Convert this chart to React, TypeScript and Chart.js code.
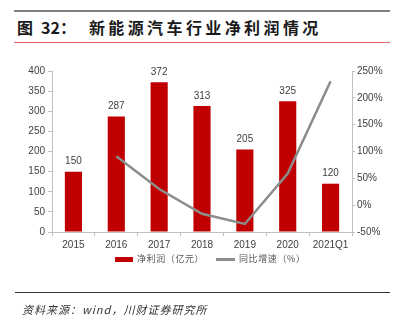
import React, { useEffect, useRef } from "react";
import { Chart, registerables } from "chart.js";

Chart.register(...registerables);

const categories = ["2015", "2016", "2017", "2018", "2019", "2020", "2021Q1"];
const netProfit = [150, 287, 372, 313, 205, 325, 120];
const yoyGrowth = [null, 91, 30, -16, -35, 59, 231];
const leftTicks = { min: 0, max: 400, step: 50 };
const rightTicks = { min: -50, max: 250, step: 50 };

const BAR_COLOR = "#c00000";
const LINE_COLOR = "#8c8c8c";
const AXIS_COLOR = "#bfbfbf";
const TEXT_COLOR = "#404040";
const FONT = "'Liberation Sans', Arial, sans-serif";
const CJK = "'Noto Sans CJK SC', sans-serif";

const valueLabels = {
  id: "valueLabels",
  afterDatasetsDraw(chart: any) {
    const ctx = chart.ctx;
    const meta = chart.getDatasetMeta(0);
    ctx.save();
    ctx.font = `10px ${FONT}`;
    ctx.fillStyle = TEXT_COLOR;
    ctx.textAlign = "center";
    ctx.textBaseline = "bottom";
    meta.data.forEach((el: any, i: number) => {
      ctx.fillText(String(netProfit[i]), el.x, el.y - 5);
    });
    ctx.restore();
  },
};

export default function App() {
  const ref = useRef<HTMLCanvasElement>(null);
  useEffect(() => {
    if (!ref.current) return;
    const chart = new Chart(ref.current, {
      type: "bar",
      data: {
        labels: categories,
        datasets: [
          {
            type: "bar",
            label: "净利润（亿元）",
            data: netProfit,
            backgroundColor: BAR_COLOR,
            barPercentage: 0.8,
            categoryPercentage: 0.5,
            yAxisID: "y",
            order: 2,
          },
          {
            type: "line",
            label: "同比增速（%）",
            data: yoyGrowth as any,
            borderColor: LINE_COLOR,
            borderWidth: 2.5,
            pointRadius: 0,
            tension: 0,
            yAxisID: "y1",
            order: 1,
          },
        ],
      },
      options: {
        responsive: false,
        animation: false,
        devicePixelRatio: 1,
        layout: { padding: { left: 12, right: 3, top: 71, bottom: 76 } },
        plugins: { legend: { display: false }, tooltip: { enabled: false } },
        scales: {
          x: {
            offset: true,
            grid: { display: true, offset: true, drawOnChartArea: false, drawTicks: true, tickLength: 4, color: AXIS_COLOR },
            border: { display: true, color: AXIS_COLOR },
            ticks: { font: { size: 10, family: FONT }, color: TEXT_COLOR, padding: 3, maxRotation: 0, autoSkip: false },
            afterFit: (s: any) => { s.height = 18; },
          },
          y: {
            position: "left",
            min: leftTicks.min,
            max: leftTicks.max,
            grid: { drawOnChartArea: false, drawTicks: true, tickLength: 4, color: AXIS_COLOR },
            border: { display: true, color: AXIS_COLOR },
            ticks: { stepSize: leftTicks.step, font: { size: 10, family: FONT }, color: TEXT_COLOR, padding: 3 },
            afterFit: (s: any) => { s.width = 40; },
          },
          y1: {
            position: "right",
            min: rightTicks.min,
            max: rightTicks.max,
            grid: { drawOnChartArea: false, drawTicks: true, tickLength: 3, color: AXIS_COLOR },
            border: { display: true, color: AXIS_COLOR },
            ticks: { stepSize: rightTicks.step, font: { size: 10, family: FONT }, color: TEXT_COLOR, padding: 2, callback: (v: any) => `${v}%` },
            afterFit: (s: any) => { s.width = 40; },
          },
        },
      },
      plugins: [valueLabels],
    });
    return () => chart.destroy();
  }, []);

  return (
    <div style={{ position: "absolute", left: 0, top: 0, width: 395, height: 326, background: "#fff", overflow: "hidden" }}>
      <div style={{ position: "absolute", left: 14, top: 10, width: 376, height: 2, background: "#808080" }} />
      <div style={{ position: "absolute", left: 17, top: 16, whiteSpace: "nowrap", fontFamily: CJK, fontWeight: 700, fontSize: 16, lineHeight: "22px", color: "#1a1a1a" }}>
        <span>图</span>
        <span style={{ marginLeft: 8 }}>32：</span>
        <span style={{ marginLeft: 13, letterSpacing: 3.4 }}>新能源汽车行业净利润情况</span>
      </div>
      <div style={{ position: "absolute", left: 14, top: 42, width: 376, height: 1, background: "#e06666" }} />
      <canvas ref={ref} width={395} height={326} style={{ position: "absolute", left: 0, top: 0, width: 395, height: 326 }} />
      <div style={{ position: "absolute", left: 115, top: 257, width: 18, height: 5, background: BAR_COLOR }} />
      <div style={{ position: "absolute", left: 137, top: 252, fontFamily: CJK, fontSize: 9, lineHeight: "14px", color: "#555", whiteSpace: "nowrap", letterSpacing: 0.6 }}>净利润（亿元）</div>
      <div style={{ position: "absolute", left: 216, top: 258, width: 19, height: 2.5, background: LINE_COLOR }} />
      <div style={{ position: "absolute", left: 239, top: 252, fontFamily: CJK, fontSize: 9, lineHeight: "14px", color: "#555", whiteSpace: "nowrap", letterSpacing: 0.6 }}>同比增速（%）</div>
      <div style={{ position: "absolute", left: 15, top: 292, width: 375, height: 1, background: "#333" }} />
      <div style={{ position: "absolute", left: 22, top: 301, fontFamily: CJK, fontStyle: "italic", fontSize: 11, lineHeight: "16px", color: "#333", whiteSpace: "nowrap", letterSpacing: 1 }}>资料来源：wind，川财证券研究所</div>
    </div>
  );
}
